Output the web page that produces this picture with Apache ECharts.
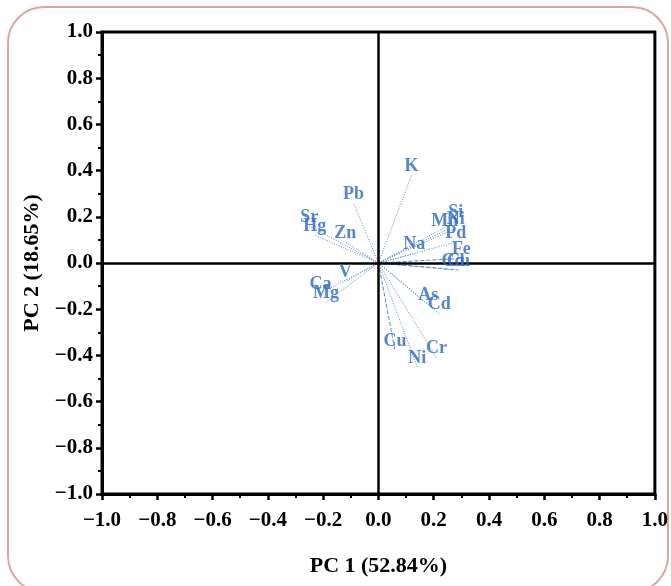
<!DOCTYPE html>
<html>
<head>
<meta charset="utf-8">
<script src="https://cdn.jsdelivr.net/npm/echarts@6/dist/echarts.min.js"></script>
<style>
  html, body { margin: 0; padding: 0; background: #fff; }
  #chart { width: 671px; height: 586px; }
</style>
</head>
<body>
<div id="chart"></div>
<script>
// loadings
const names = ['K', 'Pb', 'Sr', 'Hg', 'Zn', 'Na', 'Si', 'Mn', 'Ni', 'Pd', 'Fe', 'Cd', 'Cu',
  'Ca', 'Mg', 'V', 'As', 'Cd', 'Cu', 'Cr', 'Ni'];
const pc1 = [0.12, -0.09, -0.25, -0.23, -0.12, 0.13, 0.28, 0.24, 0.28, 0.28, 0.30, 0.27, 0.29,
  -0.21, -0.19, -0.12, 0.18, 0.22, 0.06, 0.21, 0.14];
const pc2 = [0.38, 0.26, 0.16, 0.12, 0.09, 0.04, 0.18, 0.14, 0.15, 0.09, 0.02, -0.03, -0.03,
  -0.13, -0.17, -0.08, -0.18, -0.22, -0.38, -0.41, -0.45];
const ticks = [-1.0, -0.8, -0.6, -0.4, -0.2, 0.0, 0.2, 0.4, 0.6, 0.8, 1.0];

// dash look for each vector line
const dashed = ['Fe', 'Cu'];

const blue = '#2a68c0';
const serif = '"Liberation Serif", "Times New Roman", serif';

const fmt = v => (v < 0 ? '\u2212' : '') + Math.abs(v).toFixed(1);

const axisCommon = {
  type: 'value',
  min: -1,
  max: 1,
  interval: 0.2,
  axisLine: { show: true, onZero: false, lineStyle: { color: '#000', width: 3 } },
  axisTick: { show: true, inside: false, length: 6, lineStyle: { color: '#000', width: 2.5 } },
  minorTick: { show: true, splitNumber: 2, length: 4, lineStyle: { color: '#000', width: 2 } },
  splitLine: { show: false },
  axisLabel: {
    color: '#000', fontFamily: serif, fontWeight: 'bold', fontSize: 21,
    formatter: fmt
  },
  nameLocation: 'middle',
  nameTextStyle: { color: '#000', fontFamily: serif, fontWeight: 'bold', fontSize: 22 }
};

const vectorSeries = names.map((n, i) => ({
  type: 'line',
  data: [[0, 0], [pc1[i], pc2[i]]],
  symbol: 'none',
  silent: true,
  animation: false,
  lineStyle: {
    color: '#4f88d4',
    width: 1,
    type: dashed.includes(n) ? [4, 2] : [1, 1.5]
  },
  z: 3
}));

const chart = echarts.init(document.getElementById('chart'));
chart.setOption({
  backgroundColor: '#fff',
  animation: false,
  graphic: [{
    type: 'rect',
    shape: { x: 8, y: 7, width: 660, height: 585, r: 36 },
    style: { fill: 'none', stroke: '#e3a2a2', lineWidth: 2 },
    silent: true
  }],
  grid: {
    left: 102, right: 16, top: 32, bottom: 92,
    show: true, borderColor: '#000', borderWidth: 3
  },
  xAxis: Object.assign({}, axisCommon, {
    name: 'PC 1 (52.84%)',
    nameGap: 61,
    axisLabel: Object.assign({}, axisCommon.axisLabel, { margin: 16 })
  }),
  yAxis: Object.assign({}, axisCommon, {
    name: 'PC 2 (18.65%)',
    nameGap: 59,
    nameRotate: 90,
    axisLabel: Object.assign({}, axisCommon.axisLabel, { margin: 9 })
  }),
  series: [
    {
      type: 'line',
      data: [],
      markLine: {
        silent: true,
        symbol: 'none',
        label: { show: false },
        lineStyle: { color: '#000', width: 2.5, type: 'solid' },
        data: [{ xAxis: 0 }, { yAxis: 0 }]
      },
      z: 2
    },
    ...vectorSeries,
    {
      type: 'scatter',
      symbolSize: 0,
      silent: true,
      data: names.map((n, i) => [pc1[i], pc2[i], n]),
      label: {
        show: true,
        position: 'top',
        distance: 0,
        formatter: p => p.value[2],
        color: blue,
        fontFamily: serif,
        fontWeight: 'bold',
        fontSize: 18
      },
      z: 5
    }
  ]
});
window.onresize = () => chart.resize();
</script>
</body>
</html>
